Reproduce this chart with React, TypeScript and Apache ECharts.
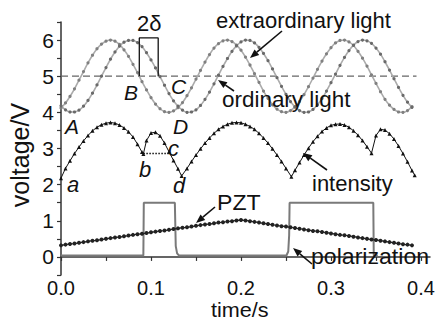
import React, { useEffect, useRef } from "react";
import * as echarts from "echarts";

// sample times (s) for the sampled curves
const sampleTimes: number[] = Array.from({ length: 79 }, (_, k) => Math.round(k * 5) / 1000);

const extraordinaryLight = [
  4.12, 4.26, 4.44, 4.65, 4.89, 5.13, 5.37, 5.58, 5.76, 5.89,
  5.97, 6.0, 5.97, 5.88, 5.73, 5.55, 5.33, 5.1, 4.85, 4.62,
  4.41, 4.23, 4.1, 4.02, 4.0, 4.04, 4.13, 4.27, 4.46, 4.68,
  4.92, 5.16, 5.39, 5.6, 5.78, 5.9, 5.98, 6.0, 5.96, 5.86,
  5.72, 5.53, 5.31, 5.07, 4.83, 4.59, 4.39, 4.21, 4.09, 4.02,
  4.0, 4.05, 4.15, 4.3, 4.49, 4.71, 4.95, 5.19, 5.42, 5.62,
  5.79, 5.92, 5.99, 6.0, 5.95, 5.85, 5.69, 5.5, 5.28, 5.04,
  4.8, 4.57, 4.36, 4.2, 4.08, 4.01, 4.0, 4.05, 4.16,
];

const ordinaryLight = [
  4.18, 4.07, 4.01, 4.01, 4.06, 4.17, 4.33, 4.53, 4.76, 5.0,
  5.24, 5.47, 5.67, 5.83, 5.94, 5.99, 5.99, 5.93, 5.82, 5.65,
  5.45, 5.23, 4.99, 4.75, 4.52, 4.32, 4.17, 4.06, 4.0, 4.01,
  4.07, 4.19, 4.36, 4.56, 4.79, 5.03, 5.27, 5.49, 5.69, 5.84,
  5.95, 6.0, 5.99, 5.92, 5.8, 5.63, 5.43, 5.2, 4.96, 4.72,
  4.5, 4.3, 4.15, 4.05, 4.0, 4.01, 4.08, 4.21, 4.38, 4.59,
  4.82, 5.06, 5.3, 5.52, 5.71, 5.86, 5.96, 6.0, 5.98, 5.91,
  5.78, 5.61, 5.4, 5.17, 4.93, 4.69, 4.47, 4.28, 4.14,
];

const pztVoltage = [
  0.32, 0.34, 0.36, 0.37, 0.39, 0.41, 0.43, 0.45, 0.46, 0.48,
  0.5, 0.52, 0.54, 0.55, 0.57, 0.59, 0.61, 0.63, 0.64, 0.66,
  0.68, 0.7, 0.72, 0.73, 0.75, 0.77, 0.79, 0.81, 0.82, 0.84,
  0.86, 0.88, 0.9, 0.91, 0.93, 0.95, 0.96, 0.98, 0.99, 1.01,
  1.02, 1.01, 0.99, 0.97, 0.95, 0.93, 0.91, 0.89, 0.87, 0.85,
  0.84, 0.82, 0.8, 0.78, 0.76, 0.74, 0.72, 0.71, 0.69, 0.67,
  0.65, 0.63, 0.61, 0.6, 0.58, 0.56, 0.54, 0.52, 0.5, 0.48,
  0.47, 0.45, 0.43, 0.41, 0.39, 0.37, 0.35, 0.34, 0.32,
];

const intensityTimes = [
  0, 0.005, 0.01, 0.015, 0.02, 0.025, 0.03, 0.035, 0.04, 0.045,
  0.05, 0.055, 0.06, 0.065, 0.07, 0.075, 0.08, 0.085, 0.09, 0.0915,
  0.095, 0.1, 0.105, 0.11, 0.115, 0.12, 0.125, 0.13, 0.134,
  0.14, 0.145, 0.15, 0.155, 0.16, 0.165, 0.17, 0.175, 0.18, 0.185,
  0.19, 0.195, 0.2, 0.205, 0.21, 0.215, 0.22, 0.225, 0.23, 0.235,
  0.24, 0.245, 0.25, 0.256, 0.26, 0.265, 0.27, 0.275, 0.28, 0.285,
  0.29, 0.295, 0.3, 0.305, 0.31, 0.315, 0.32, 0.325, 0.33, 0.335,
  0.34, 0.345, 0.35, 0.355, 0.36, 0.365, 0.37, 0.375, 0.38, 0.385,
  0.39, 0.393,
];
const intensityVoltage = [
  2.18, 2.45, 2.66, 2.86, 3.04, 3.21, 3.36, 3.49, 3.59, 3.66,
  3.7, 3.72, 3.7, 3.65, 3.57, 3.46, 3.32, 3.12, 2.9, 2.85,
  3.22, 3.43, 3.45, 3.35, 3.15, 2.91, 2.67, 2.44, 2.24,
  2.45, 2.64, 2.82, 2.99, 3.15, 3.29, 3.42, 3.53, 3.61, 3.67,
  3.71, 3.72, 3.71, 3.67, 3.61, 3.53, 3.42, 3.29, 3.15, 2.99,
  2.82, 2.64, 2.45, 2.22, 2.4, 2.61, 2.82, 3.01, 3.19, 3.34,
  3.47, 3.57, 3.64, 3.67, 3.68, 3.65, 3.59, 3.49, 3.37, 3.22,
  3.05, 2.87, 3.36, 3.53, 3.51, 3.41, 3.26, 3.07, 2.86, 2.63,
  2.39, 2.26,
];

const polarizationTimes = [0, 0.0915, 0.092, 0.1265, 0.1275, 0.129, 0.131, 0.2505, 0.2525, 0.2535, 0.254, 0.347, 0.3475, 0.352];
const polarizationVoltage = [0.04, 0.04, 1.5, 1.5, 0.3, 0.1, 0.04, 0.04, 0.15, 0.6, 1.5, 1.5, 0.04, 0.04];

const referenceLevel = 5;
const bcLevel = 2.86;
const deltaMarks = [0.087, 0.108];
const deltaTop = 6.06;

const xTickValues = [0, 0.05, 0.1, 0.15, 0.2, 0.25, 0.3, 0.35, 0.4];
const xLabelValues = [0, 0.1, 0.2, 0.3, 0.4];
const yTickValues = [-0.5, 0, 0.5, 1, 1.5, 2, 2.5, 3, 3.5, 4, 4.5, 5, 5.5, 6, 6.5];
const yLabelValues = [0, 1, 2, 3, 4, 5, 6];

const FONT = "Liberation Sans, Arial, sans-serif";

function arrow(x1: number, y1: number, x2: number, y2: number) {
  const ang = Math.atan2(y2 - y1, x2 - x1);
  const L = 9;
  const W = 3.6;
  const bx = x2 - L * Math.cos(ang);
  const by = y2 - L * Math.sin(ang);
  const px = -Math.sin(ang) * W;
  const py = Math.cos(ang) * W;
  return [
    { type: "line", shape: { x1, y1, x2: bx, y2: by }, style: { stroke: "#111", lineWidth: 1.6 }, z: 100 },
    {
      type: "polygon",
      shape: { points: [[x2, y2], [bx + px, by + py], [bx - px, by - py]] },
      style: { fill: "#111" },
      z: 100,
    },
  ];
}

function label(text: string, x: number, y: number, size: number, italic = false, scaleX = 1) {
  return {
    type: "text",
    x,
    y,
    scaleX,
    z: 101,
    style: {
      text,
      fontSize: size,
      fontFamily: FONT,
      fontStyle: italic ? "italic" : "normal",
      fill: "#111",
      textAlign: "left",
      textVerticalAlign: "middle",
    },
  };
}

export default function App() {
  const ref = useRef<HTMLDivElement>(null);
  useEffect(() => {
    document.body.style.margin = "0";
    const chart = echarts.init(ref.current!, undefined, { renderer: "svg" });
    const pairs = (ts: number[], vs: number[]) => ts.map((t, i) => [t, vs[i]]);
    const option: any = {
      animation: false,
      backgroundColor: "#fff",
      textStyle: { fontFamily: FONT },
      grid: { left: 61, right: 7, top: 22, bottom: 46, containLabel: false, outerBoundsMode: "none" },
      xAxis: {
        type: "value",
        min: 0,
        max: 0.41,
        interval: 0.05,
        splitLine: { show: false },
        axisLine: { show: true, lineStyle: { color: "#333", width: 1.5 } },
        axisTick: { show: true, inside: false, length: 4, customValues: xTickValues, lineStyle: { color: "#333", width: 1.2 } },
        axisLabel: {
          customValues: xLabelValues,
          formatter: (v: number) => v.toFixed(1),
          fontSize: 20,
          fontFamily: FONT,
          color: "#111",
          margin: 3,
        },
      },
      yAxis: {
        type: "value",
        min: -0.5,
        max: 6.5,
        interval: 0.5,
        splitLine: { show: false },
        axisLine: { show: true, onZero: false, lineStyle: { color: "#333", width: 1.5 } },
        axisTick: { show: true, inside: false, length: 4, customValues: yTickValues, lineStyle: { color: "#333", width: 1.2 } },
        axisLabel: {
          customValues: yLabelValues,
          formatter: (v: number) => String(Math.round(v)),
          fontSize: 21,
          fontFamily: FONT,
          color: "#111",
          margin: 7,
        },
      },
      series: [
        {
          type: "line",
          name: "reference",
          data: [[0, referenceLevel], [0.395, referenceLevel]],
          showSymbol: false,
          lineStyle: { color: "#666", width: 1.2, type: [7, 4] },
          z: 1,
        },
        {
          type: "line",
          name: "extraordinary light",
          data: pairs(sampleTimes, extraordinaryLight),
          symbol: "circle",
          symbolSize: 3.2,
          smooth: 0.3,
          lineStyle: { color: "#ababab", width: 1.6 },
          itemStyle: { color: "#808080" },
          z: 2,
        },
        {
          type: "line",
          name: "ordinary light",
          data: pairs(sampleTimes, ordinaryLight),
          symbol: "circle",
          symbolSize: 3.2,
          smooth: 0.3,
          lineStyle: { color: "#ababab", width: 1.6 },
          itemStyle: { color: "#6a6a6a" },
          z: 2,
        },
        {
          type: "line",
          name: "intensity",
          data: pairs(intensityTimes, intensityVoltage),
          symbol: "triangle",
          symbolSize: 4,
          lineStyle: { color: "#111", width: 1 },
          itemStyle: { color: "#111" },
          z: 3,
        },
        {
          type: "line",
          name: "polarization",
          data: pairs(polarizationTimes, polarizationVoltage),
          showSymbol: false,
          lineStyle: { color: "#7a7a7a", width: 2 },
          z: 2,
        },
        {
          type: "line",
          name: "PZT",
          data: pairs(sampleTimes, pztVoltage),
          symbol: "circle",
          symbolSize: 4,
          lineStyle: { color: "#222", width: 1.2 },
          itemStyle: { color: "#222" },
          z: 3,
        },
        {
          type: "line",
          name: "bc",
          data: [[0.0915, bcLevel], [0.121, bcLevel]],
          showSymbol: false,
          lineStyle: { color: "#111", width: 1.5, type: "dotted" },
          z: 3,
        },
        {
          type: "line",
          name: "delta",
          data: [
            [deltaMarks[0], referenceLevel],
            [deltaMarks[0], deltaTop],
            [deltaMarks[1], deltaTop],
            [deltaMarks[1], referenceLevel],
          ],
          showSymbol: false,
          lineStyle: { color: "#111", width: 1.3 },
          z: 4,
        },
      ],
      graphic: [
        ...arrow(282, 31, 250, 58),
        ...arrow(234, 91, 218, 80),
        ...arrow(327, 170, 303, 153),
        ...arrow(215, 207, 196, 223),
        ...arrow(312, 264, 293, 248),
        label("extraordinary light", 216, 20, 22, false, 1.0),
        label("ordinary light", 222, 100, 22, false, 1.02),
        label("intensity", 312, 183, 22, false, 1.0),
        label("PZT", 217, 203, 22, false, 1.05),
        label("polarization", 311, 257, 22, false, 1.05),
        label("2δ", 137, 23, 22, false, 1.0),
        label("A", 65, 126, 21, true),
        label("B", 124, 92, 21, true),
        label("C", 171, 86, 21, true),
        label("D", 173, 126, 21, true),
        label("a", 67, 184, 22, true),
        label("b", 139, 169, 22, true),
        label("c", 168, 148, 22, true),
        label("d", 173, 185, 22, true),
        label("time/s", 211, 310, 21, false, 1.03),
        {
          type: "text",
          x: 20,
          y: 155,
          rotation: Math.PI / 2,
          z: 101,
          style: {
            text: "voltage/V",
            fontSize: 25,
            fontFamily: FONT,
            fill: "#111",
            textAlign: "center",
            textVerticalAlign: "middle",
          },
        },
      ],
    };
    chart.setOption(option);
    return () => chart.dispose();
  }, []);
  return <div ref={ref} style={{ width: 437, height: 321 }} />;
}
